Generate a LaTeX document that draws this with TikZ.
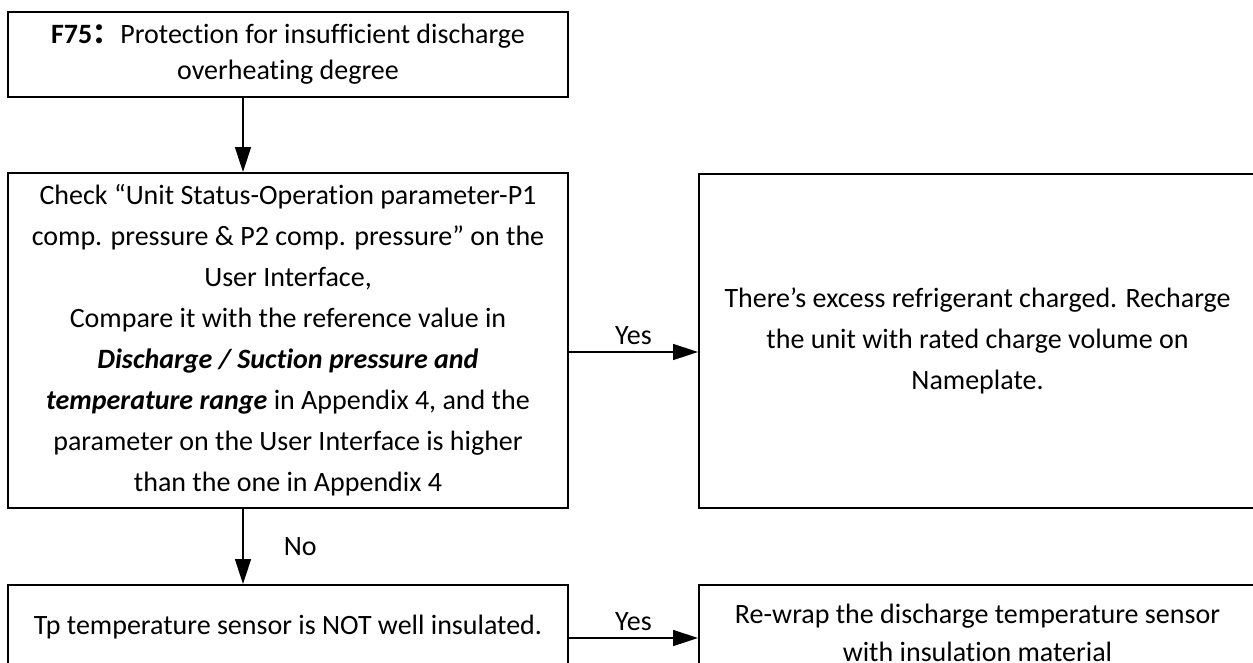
\documentclass[tikz,border=0pt]{standalone}
\usepackage{fontspec}
\setmainfont{Carlito}[Ligatures=CommonOff]
\newfontfamily\cjkfont{Noto Sans CJK SC}
\usetikzlibrary{arrows.meta}
\begin{document}
\begin{tikzpicture}[x=1pt,y=-1pt,
  box/.style={draw=black, line width=2pt, rectangle, align=center, inner sep=0pt,
    font=\fontsize{28}{41}\selectfont},
  arr/.style={draw=black, line width=1.5pt, -{Triangle[length=25pt,width=16pt]}},
  lbl/.style={inner sep=0pt, font=\fontsize{28}{30}\selectfont}]
\useasboundingbox (0,0) rectangle (1253,662);
\clip (0,0) rectangle (1253,662);
\fill[white] (0,0) rectangle (1253,662);
\node[box, minimum width=560pt, minimum height=85pt, font=\fontsize{28}{36}\selectfont] (b1) at (288,54.5)
  {\textbf{F75}{\cjkfont\bfseries ：}Protection for insufficient discharge\\overheating degree};
\node[box, minimum width=560pt, minimum height=335pt] (b2) at (288,340.5)
  {Check “Unit Status-Operation parameter-P1\\comp. pressure \& P2 comp. pressure” on the\\User Interface,\\Compare it with the reference value in\\\textbf{\textit{Discharge / Suction pressure and}}\\\textbf{\textit{temperature range}} in Appendix 4, and the\\parameter on the User Interface is higher\\than the one in Appendix 4};
\node[box, minimum width=560pt, minimum height=84pt] (b3) at (288,627)
  {Tp temperature sensor is NOT well insulated.};
\node[box, minimum width=557pt, minimum height=334pt] (b4) at (977.5,341)
  {There’s excess refrigerant charged. Recharge\\the unit with rated charge volume on\\Nameplate.};
\node[box, minimum width=557pt, minimum height=96pt, font=\fontsize{28}{38}\selectfont] (b5) at (977.5,633)
  {Re-wrap the discharge temperature sensor\\with insulation material};
\draw[arr] ([xshift=-45pt]b1.south) -- ([xshift=-45pt]b2.north);
\draw[arr] ([xshift=-45pt]b2.south) -- ([xshift=-45pt]b3.north) node[lbl, midway, right=40pt] (no) {No};
\draw[arr] ([yshift=-11.5pt]b2.east) coordinate (y1s) -- (y1s -| b4.west) node[lbl, midway, above=7pt] (yes1) {Yes};
\draw[arr] ([yshift=-11pt]b3.east) coordinate (y2s) -- (y2s -| b5.west) node[lbl, midway, above=7pt] (yes2) {Yes};
\end{tikzpicture}
\end{document}
